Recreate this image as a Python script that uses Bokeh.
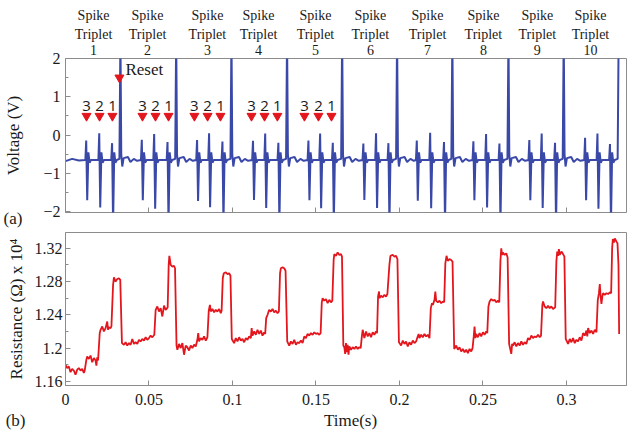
from bokeh.plotting import figure
from bokeh.layouts import column
from bokeh.models import (Range1d, FixedTicker, NumeralTickFormatter, Label, LinearAxis,
                          CustomJSTickFormatter, Title)
from bokeh.core.properties import value
from bokeh.embed import file_html
from bokeh.resources import INLINE

# ---------------- data ----------------
x_ticks = [0, 0.05, 0.1, 0.15, 0.2, 0.25, 0.3]
v_ticks = [-2, -1, 0, 1, 2]
v_minor = [-1.5, -0.5, 0.5, 1.5]
r_ticks = [1.16, 1.2, 1.24, 1.28, 1.32]
r_minor = [1.18, 1.22, 1.26, 1.30]

reset_t = [0.0329, 0.0663, 0.0994, 0.1327, 0.1657, 0.1986, 0.2317, 0.2653, 0.2984, 0.3313]
spike_t = [0.0126, 0.0204, 0.0281, 0.0459, 0.0533, 0.0613, 0.0790, 0.0862, 0.0942,
           0.1125, 0.1198, 0.1277, 0.1457, 0.1527, 0.1603, 0.1786, 0.1862, 0.1936,
           0.2106, 0.2186, 0.2269, 0.2445, 0.2521, 0.2601, 0.2780, 0.2854, 0.2934,
           0.3114, 0.3188, 0.3263]
spike_peak = [-0.14, 0.05, -0.21, -0.12, 0.03, -0.18, -0.13, 0.05, -0.17,
              -0.15, 0.04, -0.20, -0.14, 0.04, -0.20, -0.22, 0.05, -0.21,
              -0.14, 0.06, -0.18, -0.16, 0.03, -0.22, -0.13, 0.04, -0.20,
              -0.07, 0.04, -0.23]
spike_trough = [-1.70, -1.89, -2.30, -1.70, -1.92, -2.30, -1.72, -1.88, -2.30,
                -1.69, -1.90, -2.30, -1.70, -1.91, -2.30, -1.69, -1.90, -2.30,
                -1.71, -1.91, -2.30, -1.70, -1.89, -2.30, -1.70, -1.90, -2.30,
                -1.70, -1.92, -2.30]
baseline_v = -0.65
reset_peak = 2.6

marker_t = [0.0126, 0.0204, 0.0281, 0.0461, 0.0539, 0.0617, 0.0772, 0.0851, 0.0928,
            0.1114, 0.1192, 0.1269, 0.1431, 0.1515, 0.1593]
marker_v = [0.5] * 15
marker_text = ["3", "2", "1"] * 5
marker_text_v = 0.77
reset_marker_t = [0.0323]
reset_marker_v = [1.5]

triplet_names = [str(i) for i in range(1, 11)]
triplet_label_t = [0.0168, 0.0491, 0.0850, 0.1156, 0.1497, 0.1826, 0.2168, 0.2503, 0.2826, 0.3144]
time_label_t = 0.1707

res_t = [0.000, 0.001, 0.002, 0.003, 0.004, 0.005, 0.006, 0.007, 0.008, 0.009, 0.010, 0.011,
         0.0115, 0.0125, 0.013, 0.014, 0.015, 0.016, 0.017, 0.018, 0.0185, 0.019, 0.0195,
         0.0205, 0.021, 0.022, 0.023, 0.024, 0.025, 0.0255, 0.026, 0.027, 0.0275,
         0.0285, 0.029, 0.030, 0.031, 0.032, 0.0328,
         0.0338, 0.035, 0.036, 0.037, 0.038, 0.039, 0.040, 0.041, 0.042, 0.043, 0.044, 0.045,
         0.046, 0.047, 0.048, 0.049, 0.050, 0.051, 0.052, 0.0532,
         0.0540, 0.055, 0.056, 0.057, 0.058, 0.059, 0.060, 0.0612,
         0.0618, 0.0622, 0.063, 0.064, 0.065, 0.0656,
         0.0665, 0.067, 0.068, 0.069, 0.070, 0.071, 0.072, 0.073, 0.074, 0.075, 0.076, 0.077,
         0.078, 0.079, 0.0795, 0.080, 0.081, 0.082, 0.083, 0.084, 0.085,
         0.0858, 0.0865, 0.087, 0.088, 0.089, 0.090, 0.091, 0.092, 0.093, 0.0935,
         0.0942, 0.0948, 0.096, 0.097, 0.098, 0.0988,
         0.0996, 0.101, 0.102, 0.103, 0.104, 0.105, 0.106, 0.107, 0.108, 0.109, 0.110, 0.111,
         0.1115, 0.112, 0.113, 0.114, 0.115, 0.116, 0.117, 0.118, 0.119, 0.1196,
         0.1202, 0.121, 0.122, 0.123, 0.124, 0.125, 0.126, 0.127, 0.1278,
         0.1285, 0.129, 0.130, 0.131, 0.1318,
         0.1328, 0.134, 0.135, 0.136, 0.137, 0.138, 0.139, 0.140, 0.141, 0.142, 0.143, 0.144,
         0.145, 0.146, 0.147, 0.148, 0.149, 0.150, 0.151, 0.152, 0.1528,
         0.1535, 0.154, 0.155, 0.156, 0.157, 0.158, 0.159, 0.1598,
         0.1606, 0.161, 0.162, 0.163, 0.164, 0.165, 0.1656,
         0.1664, 0.167, 0.1675, 0.168, 0.1685, 0.169, 0.1695, 0.170, 0.171, 0.172, 0.173, 0.174,
         0.175, 0.176, 0.1768,
         0.1775, 0.178, 0.179, 0.180, 0.181, 0.182, 0.183, 0.184, 0.185, 0.186, 0.1866,
         0.1872, 0.1878, 0.188, 0.189, 0.190, 0.191, 0.192, 0.1928,
         0.1940, 0.1946, 0.196, 0.197, 0.198, 0.1988,
         0.1997, 0.201, 0.202, 0.203, 0.204, 0.205, 0.206, 0.207, 0.208, 0.209, 0.210,
         0.2108, 0.2115, 0.212, 0.213, 0.214, 0.215, 0.216, 0.217, 0.218,
         0.2188, 0.2195, 0.220, 0.221, 0.2215, 0.222, 0.223, 0.224, 0.225, 0.226, 0.2268,
         0.2275, 0.2282, 0.229, 0.230, 0.231, 0.2318,
         0.2328, 0.234, 0.235, 0.236, 0.237, 0.238, 0.239, 0.240, 0.241, 0.242, 0.243, 0.2438,
         0.2445, 0.245, 0.2455, 0.246, 0.247, 0.248, 0.249, 0.250, 0.251, 0.252, 0.2526,
         0.2533, 0.254, 0.255, 0.256, 0.257, 0.258, 0.259, 0.2598,
         0.2605, 0.2610, 0.2615, 0.262, 0.263, 0.264, 0.2648,
         0.2657, 0.267, 0.2675, 0.268, 0.269, 0.270, 0.271, 0.272, 0.273, 0.274, 0.275, 0.276,
         0.277, 0.278, 0.279, 0.280, 0.281, 0.282, 0.283, 0.284, 0.2848,
         0.2856, 0.286, 0.287, 0.288, 0.289, 0.290, 0.291, 0.292, 0.2933,
         0.2940, 0.2945, 0.295, 0.2955, 0.296, 0.297, 0.298, 0.2988,
         0.2996, 0.301, 0.302, 0.303, 0.304, 0.305, 0.306, 0.307, 0.308, 0.309,
         0.310, 0.311, 0.312, 0.3125, 0.313, 0.314, 0.315, 0.316, 0.317, 0.318,
         0.3188, 0.3195, 0.320, 0.3205, 0.321, 0.3215, 0.322, 0.323, 0.324, 0.325, 0.326, 0.3268,
         0.3274, 0.3278, 0.3285, 0.329, 0.330, 0.3306, 0.3312, 0.3316]
res_v = [1.180, 1.176, 1.178, 1.171, 1.175, 1.173, 1.168, 1.174, 1.176, 1.173, 1.175, 1.170,
         1.173, 1.186, 1.190, 1.187, 1.191, 1.183, 1.188, 1.185, 1.179, 1.189, 1.185,
         1.218, 1.222, 1.226, 1.220, 1.224, 1.232, 1.222, 1.225, 1.224, 1.226,
         1.276, 1.285, 1.280, 1.283, 1.284, 1.282,
         1.206, 1.204, 1.207, 1.203, 1.206, 1.204, 1.211, 1.205, 1.207, 1.205, 1.210, 1.208,
         1.211, 1.209, 1.213, 1.210, 1.212, 1.215, 1.213, 1.216,
         1.246, 1.250, 1.244, 1.248, 1.238, 1.251, 1.246, 1.249,
         1.300, 1.311, 1.300, 1.298, 1.299, 1.296,
         1.203, 1.198, 1.205, 1.200, 1.206, 1.192, 1.203, 1.201, 1.197, 1.203, 1.200, 1.204,
         1.202, 1.210, 1.218, 1.208, 1.212, 1.210, 1.214, 1.209, 1.213,
         1.245, 1.252, 1.244, 1.247, 1.243, 1.246, 1.244, 1.247, 1.242, 1.245,
         1.284, 1.290, 1.291, 1.289, 1.290, 1.287,
         1.211, 1.206, 1.212, 1.208, 1.213, 1.209, 1.211, 1.207, 1.212, 1.210, 1.214, 1.212,
         1.224, 1.215, 1.220, 1.216, 1.222, 1.217, 1.221, 1.215, 1.219, 1.217,
         1.236, 1.240, 1.246, 1.244, 1.247, 1.243, 1.245, 1.242, 1.244,
         1.290, 1.296, 1.297, 1.296, 1.293,
         1.208, 1.203, 1.208, 1.205, 1.210, 1.204, 1.207, 1.206, 1.209, 1.206, 1.214, 1.212,
         1.217, 1.215, 1.218, 1.216, 1.219, 1.217, 1.218, 1.216, 1.218,
         1.255, 1.260, 1.257, 1.259, 1.254, 1.258, 1.255, 1.257,
         1.306, 1.313, 1.311, 1.315, 1.312, 1.313, 1.310,
         1.203, 1.201, 1.193, 1.206, 1.195, 1.204, 1.192, 1.202, 1.198, 1.201, 1.199, 1.202,
         1.199, 1.201, 1.200,
         1.214, 1.222, 1.212, 1.220, 1.214, 1.218, 1.213, 1.219, 1.216, 1.220, 1.218,
         1.262, 1.268, 1.260, 1.263, 1.261, 1.264, 1.262, 1.265,
         1.300, 1.311, 1.312, 1.310, 1.311, 1.307,
         1.207, 1.203, 1.209, 1.205, 1.208, 1.202, 1.207, 1.204, 1.209, 1.206, 1.208,
         1.213, 1.217, 1.212, 1.216, 1.213, 1.217, 1.214, 1.216, 1.212,
         1.248, 1.254, 1.252, 1.258, 1.268, 1.257, 1.255, 1.257, 1.254, 1.256, 1.255,
         1.302, 1.311, 1.305, 1.307, 1.306, 1.304,
         1.199, 1.203, 1.198, 1.201, 1.196, 1.199, 1.195, 1.198, 1.194, 1.199, 1.196, 1.200,
         1.214, 1.226, 1.212, 1.217, 1.213, 1.218, 1.214, 1.219, 1.216, 1.220, 1.218,
         1.250, 1.256, 1.259, 1.257, 1.258, 1.255, 1.257, 1.255,
         1.305, 1.320, 1.312, 1.315, 1.312, 1.314, 1.309,
         1.205, 1.193, 1.205, 1.203, 1.207, 1.202, 1.206, 1.203, 1.208, 1.204, 1.207, 1.205,
         1.212, 1.210, 1.215, 1.212, 1.214, 1.213, 1.216, 1.213, 1.215,
         1.252, 1.256, 1.250, 1.248, 1.251, 1.248, 1.250, 1.247, 1.249,
         1.304, 1.316, 1.311, 1.319, 1.312, 1.316, 1.313, 1.310,
         1.211, 1.205, 1.211, 1.207, 1.212, 1.206, 1.210, 1.208, 1.213, 1.209,
         1.218, 1.215, 1.221, 1.214, 1.224, 1.218, 1.221, 1.217, 1.222, 1.219,
         1.258, 1.266, 1.277, 1.262, 1.253, 1.262, 1.266, 1.264, 1.266, 1.265, 1.267, 1.266,
         1.320, 1.331, 1.327, 1.332, 1.328, 1.326, 1.300, 1.217]

# ---------------- voltage trace from the spike list ----------------
events = sorted([(t, "s", pk, tr) for t, pk, tr in zip(spike_t, spike_peak, spike_trough)] +
                [(r, "r", None, None) for r in reset_t])
volt_t, volt_v = [0.0, 0.004, 0.008], [-0.68, -0.62, -0.66]
for t, kind, pk, tr in events:
    if kind == "s":
        pts = [(t - 0.0007, baseline_v), (t - 0.0002, pk), (t + 0.0004, tr),
               (t + 0.0011, -0.45), (t + 0.0018, -0.72), (t + 0.0026, baseline_v)]
    elif t == reset_t[-1]:
        pts = [(t - 0.0006, baseline_v + 0.03), (t, reset_peak)]
    else:
        pts = [(t - 0.0006, baseline_v + 0.03), (t, reset_peak), (t + 0.0005, -0.5),
               (t + 0.0011, -0.82), (t + 0.0019, -0.6), (t + 0.0045, -0.57),
               (t + 0.006, -0.7), (t + 0.008, -0.62), (t + 0.010, -0.67)]
    for a, b in pts:
        volt_t.append(a)
        volt_v.append(b)

BLUE = "#3a48a8"
RED = "#e3161d"
GRAY = "#8c8c8c"
INK = "#1a1a1a"
SERIF = "Liberation Serif"

W = 628
x_range = Range1d(0, 0.336)


def text_axis(p, side, ticks, names, size, standoff):
    ax = LinearAxis(ticker=FixedTicker(ticks=ticks),
                    formatter=CustomJSTickFormatter(
                        args=dict(pos=ticks, names=names),
                        code="let b = 0; for (let i = 0; i < pos.length; i++) {"
                             " if (Math.abs(pos[i] - tick) < Math.abs(pos[b] - tick)) b = i; }"
                             " return names[b];"))
    ax.axis_line_color = None
    ax.major_tick_line_color = None
    ax.minor_tick_line_color = None
    ax.major_label_standoff = standoff
    ax.major_label_text_font = SERIF
    ax.major_label_text_font_size = size
    ax.major_label_text_color = INK
    p.add_layout(ax, side)
    return ax


def style_y(ax, ticks, minor, standoff, title, title_standoff):
    ax.ticker = FixedTicker(ticks=ticks, minor_ticks=minor)
    ax.axis_line_color = GRAY
    ax.major_tick_line_color = GRAY
    ax.minor_tick_line_color = GRAY
    ax.major_tick_in = 5
    ax.major_tick_out = 0
    ax.minor_tick_in = 3
    ax.minor_tick_out = 0
    ax.major_label_standoff = standoff
    ax.major_label_text_font = SERIF
    ax.major_label_text_font_size = "16px"
    ax.major_label_text_color = INK
    ax.axis_label = title
    ax.axis_label_standoff = title_standoff
    ax.axis_label_text_font = SERIF
    ax.axis_label_text_font_size = "17px"
    ax.axis_label_text_font_style = "normal"
    ax.axis_label_text_color = INK


# ---------------- top panel (voltage) ----------------
p1 = figure(width=W, height=231, x_range=x_range, y_range=Range1d(-2.02, 2.0),
            output_backend="svg", toolbar_location=None,
            min_border_left=65, min_border_right=2, min_border_top=58, min_border_bottom=19)
p1.grid.visible = False
p1.outline_line_color = GRAY
xa = p1.xaxis[0]
xa.ticker = FixedTicker(ticks=[], minor_ticks=x_ticks)
xa.axis_line_color = None
xa.major_tick_line_color = None
xa.minor_tick_line_color = GRAY
xa.minor_tick_in = 5
xa.minor_tick_out = 0
xa.major_label_standoff = 0
style_y(p1.yaxis[0], v_ticks, v_minor, 5, "Voltage (V)", 17)

# "Spike / Triplet / N" headings: three rows above the frame, nearest row first
text_axis(p1, "above", triplet_label_t, triplet_names, "14px", -2)
text_axis(p1, "above", triplet_label_t, ["Triplet"] * 10, "14px", -6)
text_axis(p1, "above", triplet_label_t, ["Spike"] * 10, "14px", -5)

# panel tag "(a)" below the left corner
p1.add_layout(Title(text="(a)", align="left", offset=-62, standoff=-8, vertical_align="top",
                    text_font=SERIF, text_font_size="17px", text_font_style="normal",
                    text_color=INK), "below")

p1.line(volt_t, volt_v, line_color=BLUE, line_width=2)
p1.scatter(marker_t, marker_v, marker="inverted_triangle", size=9, color=RED)
p1.scatter(reset_marker_t, reset_marker_v, marker="inverted_triangle", size=9, color=RED)
p1.text(marker_t, [marker_text_v] * len(marker_t), text=marker_text, text_align="center",
        text_baseline="middle", text_font=value("Open Sans"), text_font_size="15px",
        text_color=INK)
p1.add_layout(Label(x=0.0359, y=1.71, text="Reset", text_align="left", text_baseline="middle",
                    text_font=SERIF, text_font_size="17px", text_color=INK))

# ---------------- bottom panel (resistance) ----------------
p2 = figure(width=W, height=179, x_range=x_range, y_range=Range1d(1.155, 1.339),
            output_backend="svg", toolbar_location=None,
            min_border_left=65, min_border_right=2, min_border_top=1, min_border_bottom=25)
p2.grid.visible = False
p2.outline_line_color = GRAY
xb = p2.xaxis[0]
xb.ticker = FixedTicker(ticks=x_ticks)
xb.formatter = NumeralTickFormatter(format="0.[00]")
xb.axis_line_color = GRAY
xb.major_tick_line_color = GRAY
xb.minor_tick_line_color = None
xb.major_tick_in = 5
xb.major_tick_out = 0
xb.major_label_standoff = 8
xb.major_label_text_font = SERIF
xb.major_label_text_font_size = "16px"
xb.major_label_text_color = INK
style_y(p2.yaxis[0], r_ticks, r_minor, 3, "Resistance (\u03a9) x 10\u2074", 6)
p2.yaxis.formatter = NumeralTickFormatter(format="0.[00]")

p2.line(res_t, res_v, line_color=RED, line_width=1.8)

# ---------------- caption strip: "(b)" and "Time(s)" ----------------
sb = figure(width=W, height=20, x_range=x_range, y_range=Range1d(430, 410),
            output_backend="svg", toolbar_location=None, x_axis_location=None,
            min_border_left=65, min_border_right=2, min_border_top=0, min_border_bottom=0)
sb.grid.visible = False
sb.outline_line_color = None
tag = sb.yaxis[0]
tag.ticker = FixedTicker(ticks=[420])
tag.formatter = CustomJSTickFormatter(args=dict(tag="(b)"), code="return tag;")
tag.axis_line_color = None
tag.major_tick_line_color = None
tag.minor_tick_line_color = None
tag.major_label_standoff = 34
tag.major_label_text_font = SERIF
tag.major_label_text_font_size = "17px"
tag.major_label_text_color = INK
sb.add_layout(Label(x=time_label_t, y=420, text="Time(s)", text_align="center",
                    text_baseline="middle", text_font=SERIF, text_font_size="17px",
                    text_color=INK))

layout = column(p1, p2, sb, spacing=0)
open("out.html", "w").write(file_html(layout, INLINE))
